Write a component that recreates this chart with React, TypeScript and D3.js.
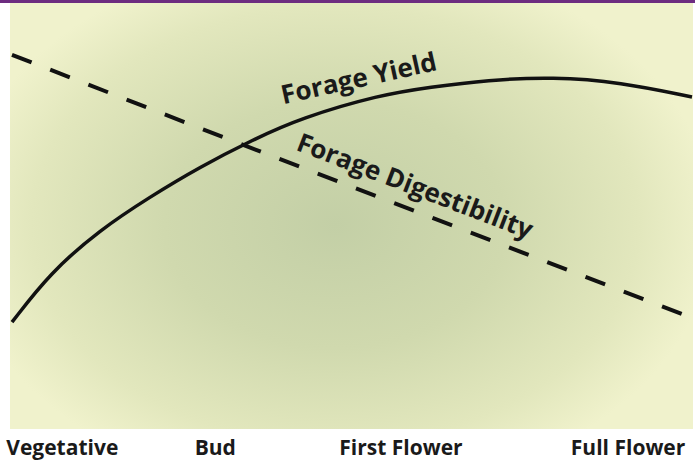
import React from "react";
import * as d3 from "d3";

// maturity progress (0-100) vs relative level (0-100)
const yieldX = [0, 5.6, 12.9, 20.3, 27.6, 35.4, 42.4, 54.1, 61.5, 69.9, 79.6, 89.4, 100];
const yieldY = [24.9, 36.5, 46.6, 54.4, 61.4, 67.8, 72.9, 78.4, 80.2, 81.9, 82.6, 81.4, 77.9];
const digestX = [0, 34, 100];
const digestY = [87.8, 66.6, 25.9];
const stageNames = ["Vegetative", "Bud", "First Flower", "Full Flower"];
const stageX = [7.4, 29.9, 57.2, 90.6];
const seriesLabels = ["Forage Yield", "Forage Digestibility"];

const W = 695;
const H = 463;
const plot = { left: 10, right: 693, top: 3, bottom: 429 };

export default function App() {
  const x = d3.scaleLinear().domain([0, 100]).range([12, 692]);
  const y = d3.scaleLinear().domain([0, 100]).range([428, 3]);
  const line = d3
    .line<[number, number]>()
    .x((d) => x(d[0]))
    .y((d) => y(d[1]))
    .curve(d3.curveBasis);
  const straight = d3
    .line<[number, number]>()
    .x((d) => x(d[0]))
    .y((d) => y(d[1]));
  const yieldPts = yieldX.map((v, i) => [v, yieldY[i]] as [number, number]);
  const digPts = digestX.map((v, i) => [v, digestY[i]] as [number, number]);
  const font = "'Open Sans', 'Noto Sans', sans-serif";

  return (
    <svg
      width={W}
      height={H}
      style={{ position: "absolute", left: 0, top: 0, display: "block" }}
    >
      <defs>
        <radialGradient
          id="bg"
          gradientUnits="userSpaceOnUse"
          cx={335}
          cy={225}
          r={380}
          gradientTransform="translate(335 225) scale(1 0.72) translate(-335 -225)"
        >
          <stop offset="0" stopColor="#c3cfa6" />
          <stop offset="0.45" stopColor="#d0d9ae" />
          <stop offset="0.8" stopColor="#e2e7bd" />
          <stop offset="1" stopColor="#f0f2cc" />
        </radialGradient>
      </defs>
      <rect x={0} y={0} width={W} height={H} fill="#ffffff" />
      <rect
        x={plot.left}
        y={plot.top}
        width={plot.right - plot.left}
        height={plot.bottom - plot.top}
        fill="url(#bg)"
      />
      <rect x={0} y={0} width={W} height={3} fill="#6d2c80" />

      <path
        d={straight(digPts) || ""}
        fill="none"
        stroke="#111"
        strokeWidth={4}
        strokeDasharray="21 20"
      />
      <path d={line(yieldPts) || ""} fill="none" stroke="#111" strokeWidth={3.5} />

      <text
        transform={`translate(${x(39.9)},${y(76.2)}) rotate(-12.5)`}
        fontFamily={font}
        fontWeight={700}
        fontSize={26}
        fill="#1a1a1a"
      >
        {seriesLabels[0]}
      </text>
      <text
        transform={`translate(${x(41.6)},${y(65.5)}) rotate(21)`}
        fontFamily={font}
        fontWeight={700}
        fontSize={26}
        fill="#1a1a1a"
      >
        {seriesLabels[1]}
      </text>

      {stageNames.map((s, i) => (
        <text
          key={s}
          x={x(stageX[i])}
          y={455}
          textAnchor="middle"
          fontFamily={font}
          fontWeight={700}
          fontSize={21}
          fill="#1a1a1a"
        >
          {s}
        </text>
      ))}
    </svg>
  );
}
